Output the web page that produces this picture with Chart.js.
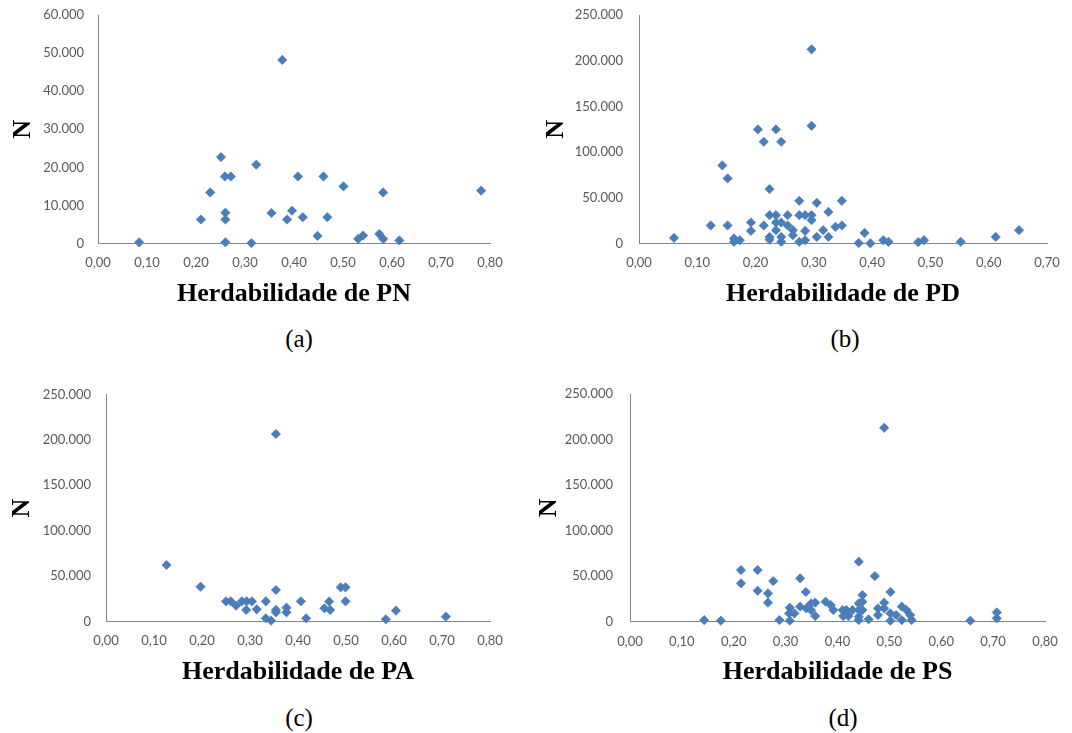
<!DOCTYPE html>
<html><head><meta charset="utf-8">
<script src="https://cdn.jsdelivr.net/npm/chart.js@4.4.1/dist/chart.umd.min.js"></script>
<style>
body{margin:0;background:#fff;width:1072px;height:733px;position:relative;overflow:hidden}
canvas{position:absolute}
.cap{position:absolute;font-family:"Liberation Serif","Times New Roman",serif;font-size:25px;color:#000;transform:translate(-50%,-50%);white-space:nowrap;line-height:1}
</style></head><body>
<canvas id="cA" width="536" height="320" style="left:0;top:0"></canvas>
<canvas id="cB" width="536" height="320" style="left:536px;top:0"></canvas>
<canvas id="cC" width="536" height="320" style="left:0;top:370px"></canvas>
<canvas id="cD" width="546" height="320" style="left:526px;top:370px"></canvas>
<div class="cap" style="left:299px;top:338px">(a)</div>
<div class="cap" style="left:845px;top:338px">(b)</div>
<div class="cap" style="left:299px;top:717px">(c)</div>
<div class="cap" style="left:843px;top:717px">(d)</div>
<script>
// ---- Data (heritability, N) ----
const hPN = [0.084,0.376,0.251,0.259,0.271,0.229,0.210,0.260,0.260,0.260,0.313,0.323,0.354,0.386,0.396,0.408,0.418,0.448,0.460,0.468,0.501,0.531,0.541,0.574,0.582,0.582,0.615,0.782];
const nPN = [300,48200,22700,17600,17600,13400,6300,8100,6300,300,100,20700,8000,6300,8600,17600,6900,2000,17600,6900,15000,1200,2100,2500,13400,1200,800,13900];

const hPD = [0.060,0.123,0.143,0.152,0.152,0.163,0.163,0.173,0.192,0.192,0.204,0.214,0.224,0.214,0.224,0.224,0.224,0.235,0.244,0.235,0.235,0.235,0.244,0.244,0.244,0.255,0.255,0.264,0.264,0.275,0.275,0.285,0.285,0.285,0.275,0.296,0.296,0.296,0.296,0.305,0.305,0.316,0.325,0.325,0.337,0.348,0.348,0.377,0.387,0.397,0.419,0.428,0.479,0.489,0.552,0.612,0.652];
const nPD = [6100,19700,85400,71200,19700,5500,1800,3600,23000,13800,124800,111300,59500,19700,31000,7200,4300,124800,111300,31000,23000,14600,23000,7200,1800,31000,19700,14600,9100,46700,31000,31000,13800,3600,1800,212400,128800,31000,25500,44500,7200,14600,34600,7200,18200,46700,19700,500,11600,200,3600,1800,1500,3600,1800,7200,14600];

const hPA = [0.354,0.126,0.197,0.250,0.260,0.271,0.283,0.293,0.304,0.292,0.314,0.333,0.333,0.344,0.354,0.354,0.354,0.376,0.376,0.406,0.417,0.455,0.465,0.467,0.489,0.499,0.499,0.583,0.604,0.708];
const nPA = [206500,62200,38300,22200,22200,17400,22200,22200,22200,12700,13400,22200,3500,900,34700,12700,10100,15200,10100,22200,3500,14500,22000,12700,37600,37600,22200,2400,11900,5300];

const hPS = [0.143,0.175,0.214,0.214,0.246,0.246,0.266,0.266,0.276,0.288,0.308,0.308,0.307,0.317,0.328,0.328,0.339,0.340,0.349,0.349,0.357,0.357,0.377,0.387,0.392,0.410,0.411,0.417,0.421,0.429,0.441,0.441,0.441,0.441,0.441,0.448,0.448,0.448,0.460,0.472,0.478,0.478,0.490,0.490,0.490,0.502,0.502,0.502,0.513,0.524,0.524,0.533,0.540,0.543,0.656,0.707,0.707];
const nPS = [1800,1100,56700,42100,56700,34000,31100,20900,44600,1800,15400,1100,9100,9100,47600,16500,32600,14600,20100,12800,20900,6200,22000,18300,12800,12800,6200,12800,6200,12800,65900,20100,12800,5500,1800,29300,22000,12800,2600,50100,14600,7300,212900,20900,14600,32600,9100,1100,7300,16500,1800,12800,7300,1800,1100,10200,3700];

const xTitles = ["Herdabilidade de PN","Herdabilidade de PD","Herdabilidade de PA","Herdabilidade de PS"];
const yTitle = "N";

// ---- helpers ----
const fmtN = v => String(Math.round(v)).replace(/\B(?=(\d{3})+(?!\d))/g, ".");
const fmtH = v => v.toFixed(2).replace(".", ",");
const tickFont = {family:"Lato, 'Open Sans', sans-serif", size:13};
const titleFont = {family:"'Liberation Serif','Times New Roman',serif", size:26, weight:"bold", lineHeight:1.2};
const blue = "#4A7EBB";
const axisGray = "#868686";

function make(id, hs, ns, cfg){
  const pts = hs.map((h,i)=>({x:h, y:ns[i]}));
  new Chart(document.getElementById(id), {
    type:"scatter",
    data:{datasets:[{data:pts, pointStyle:"rectRot", pointRadius:4.6, borderWidth:0.8,
      backgroundColor:blue, borderColor:blue, clip:false}]},
    options:{
      responsive:false, animation:false, events:[],
      layout:{padding:cfg.pad},
      plugins:{legend:{display:false}, tooltip:{enabled:false}},
      scales:{
        x:{type:"linear", min:0, max:cfg.xMax,
          grid:{display:false, drawTicks:false},
          border:{display:true, color:axisGray, width:1},
          ticks:{stepSize:0.1, autoSkip:false, maxRotation:0, padding:12, color:"#595959", font:tickFont, callback:fmtH},
          title:{display:true, text:cfg.xTitle, color:"#000", font:titleFont, padding:{top:0,bottom:0}},
          afterFit:s=>{s.height = 66; s.paddingLeft = 0; s.paddingRight = 0;}
        },
        y:{type:"linear", min:0, max:cfg.yMax,
          grid:{display:false, drawTicks:false},
          border:{display:true, color:axisGray, width:1},
          ticks:{stepSize:cfg.yStep, padding:cfg.yPad, color:"#595959", font:tickFont, callback:fmtN},
          title:{display:true, text:yTitle, color:"#000", font:titleFont, padding:{top:cfg.tPad,bottom:0}},
          afterFit:s=>{s.width = cfg.yW; s.paddingTop = 0; s.paddingBottom = 0;}
        }
      }
    }
  });
}

make("cA", hPN, nPN, {xMax:0.8, yMax:60000, yStep:10000, xTitle:xTitles[0], yW:98, yPad:14, tPad:7.4, pad:{top:15,right:46,bottom:10.5,left:0}});
make("cB", hPD, nPD, {xMax:0.7, yMax:250000, yStep:50000, xTitle:xTitles[1], yW:103, yPad:16, tPad:4.4, pad:{top:15,right:25,bottom:10.5,left:0}});
make("cC", hPA, nPA, {xMax:0.8, yMax:250000, yStep:50000, xTitle:xTitles[2], yW:106, yPad:15, tPad:6.4, pad:{top:24.5,right:46,bottom:2.5,left:0}});
make("cD", hPS, nPS, {xMax:0.8, yMax:250000, yStep:50000, xTitle:xTitles[3], yW:104, yPad:17, tPad:7.4, pad:{top:24,right:27,bottom:2.3,left:0}});
</script>
</body></html>
